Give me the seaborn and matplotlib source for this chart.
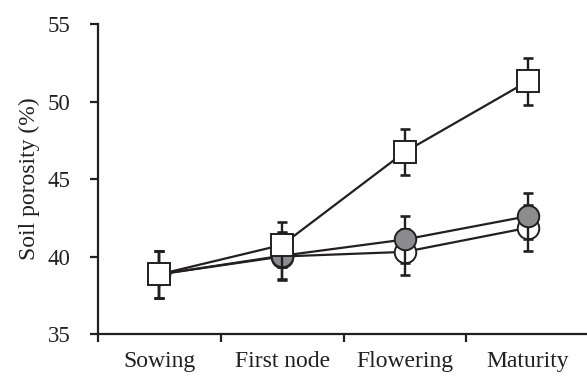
import matplotlib
matplotlib.use("Agg")
import matplotlib.pyplot as plt
import seaborn as sns
import pandas as pd
import numpy as np

# ---- data ----
stages = ["Sowing", "First node", "Flowering", "Maturity"]
white_circle = [38.85, 40.0, 40.3, 41.85]
white_circle_err = [1.5, 1.5, 1.5, 1.5]
gray_circle = [38.85, 40.05, 41.1, 42.6]
gray_circle_err = [1.5, 1.5, 1.5, 1.5]
white_square = [38.85, 40.75, 46.75, 51.3]
white_square_err = [1.5, 1.45, 1.5, 1.5]
y_ticks = [35, 40, 45, 50, 55]

sns.set_theme(style="ticks")
plt.rcParams['font.family'] = ['Liberation Serif', 'DejaVu Serif']

ink = "#231f20"
fig = plt.figure(figsize=(5.87, 3.78), dpi=100)
ax = fig.add_axes([0.167, 0.1164, 0.8365, 0.8201])

xpos = np.arange(len(stages)) + 0.5

series = [
    (white_circle, white_circle_err, "o", "white", 3),
    (gray_circle, gray_circle_err, "o", "#8b8c8e", 4),
    (white_square, white_square_err, "s", "white", 5),
]

for vals, errs, mk, fc, z in series:
    df = pd.DataFrame({"x": xpos, "y": vals})
    ax.errorbar(df["x"], df["y"], yerr=errs, fmt="none", ecolor=ink,
                elinewidth=1.7, capsize=3.6, capthick=1.9, zorder=z - 0.5)
    sns.lineplot(data=df, x="x", y="y", ax=ax, color=ink, linewidth=1.6,
                 marker=mk, markersize=15.5, markerfacecolor=fc,
                 markeredgecolor=ink, markeredgewidth=1.4, zorder=z)

ax.set_xlim(0, 4)
ax.set_ylim(35, 55)
ax.set_yticks(y_ticks)
ax.set_yticklabels([str(t) for t in y_ticks])
ax.set_xticks([0, 1, 2, 3])
ax.set_xticklabels([])
ax.set_xticks(xpos, minor=True)
ax.set_xticklabels(stages, minor=True)

ax.tick_params(axis="x", which="major", direction="out", length=6, width=1.6, color=ink)
ax.tick_params(axis="x", which="minor", length=0, pad=12, labelsize=17, labelcolor=ink)
ax.tick_params(axis="y", which="major", direction="out", length=6, width=1.6, color=ink,
               pad=14, labelsize=16.5, labelcolor=ink)

ax.set_xlabel("")
ax.set_ylabel("Soil porosity (%)", fontsize=17, color=ink, labelpad=5)

for s in ["top", "right"]:
    ax.spines[s].set_visible(False)
for s in ["left", "bottom"]:
    ax.spines[s].set_linewidth(1.6)
    ax.spines[s].set_color(ink)

fig.savefig("out.png", dpi=100)
